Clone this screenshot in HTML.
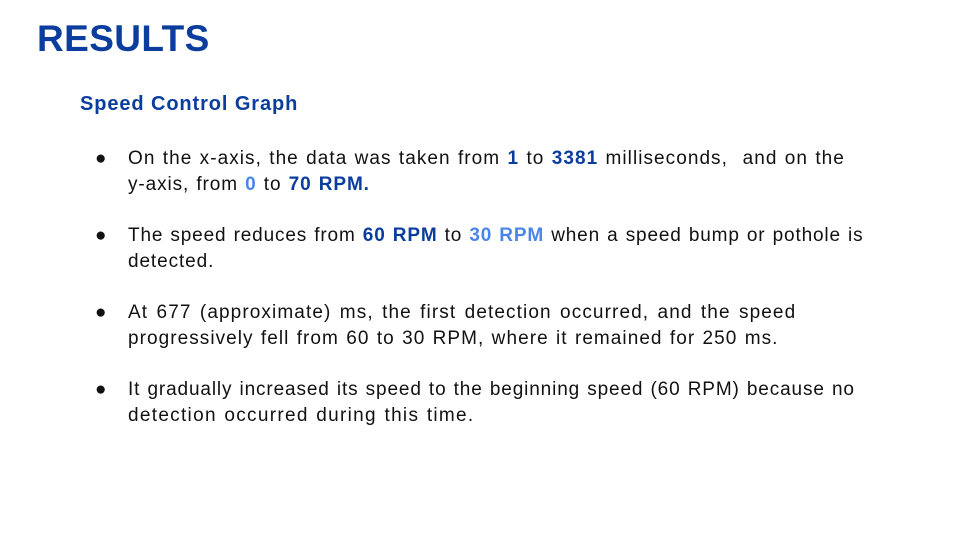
<!DOCTYPE html>
<html><head><meta charset="utf-8"><style>
body{margin:0;width:960px;height:540px;background:#fff;overflow:hidden;position:relative;font-family:"Liberation Sans",sans-serif}
h1{position:absolute;left:37px;top:17px;margin:0;font-size:37px;font-weight:bold;color:#0b3d9e;line-height:44px;letter-spacing:0.4px}
h2{position:absolute;left:80px;top:91px;margin:0;font-size:20px;font-weight:bold;color:#0b3d9e;line-height:26px;letter-spacing:0.9px}
.l{position:absolute;left:128px;font-size:19px;color:#111;line-height:26px;white-space:nowrap;letter-spacing:0.9px;word-spacing:1px}
.b{position:absolute;left:95px;font-size:19px;color:#111;line-height:26px}
.d{color:#0b3d9e;font-weight:bold}.c{color:#4a86e8;font-weight:bold}
</style></head><body>
<h1>RESULTS</h1>
<h2>Speed Control Graph</h2>
<div>
<span class="b" style="top:146px">●</span>
<div class="l" style="top:146px;letter-spacing:1.05px">On the x-axis, the data was taken from <span class="d">1</span> to <span class="d">3381</span> milliseconds,&nbsp; and on the</div>
<div class="l" style="top:172px">y-axis, from <span class="c">0</span> to <span class="d">70 RPM.</span></div>
<span class="b" style="top:223px">●</span>
<div class="l" style="top:223px;letter-spacing:0.85px">The speed reduces from <span class="d">60 RPM</span> to <span class="c">30 RPM</span> when a speed bump or pothole is</div>
<div class="l" style="top:249px">detected.</div>
<span class="b" style="top:300px">●</span>
<div class="l" style="top:300px;letter-spacing:1.1px;word-spacing:2px">At 677 (approximate) ms, the first detection occurred, and the speed</div>
<div class="l" style="top:326px;letter-spacing:1.05px">progressively fell from 60 to 30 RPM, where it remained for 250 ms.</div>
<span class="b" style="top:377px">●</span>
<div class="l" style="top:377px;letter-spacing:0.87px">It gradually increased its speed to the beginning speed (60 RPM) because no</div>
<div class="l" style="top:403px;letter-spacing:1.3px">detection occurred during this time.</div>
</div>
</body></html>
